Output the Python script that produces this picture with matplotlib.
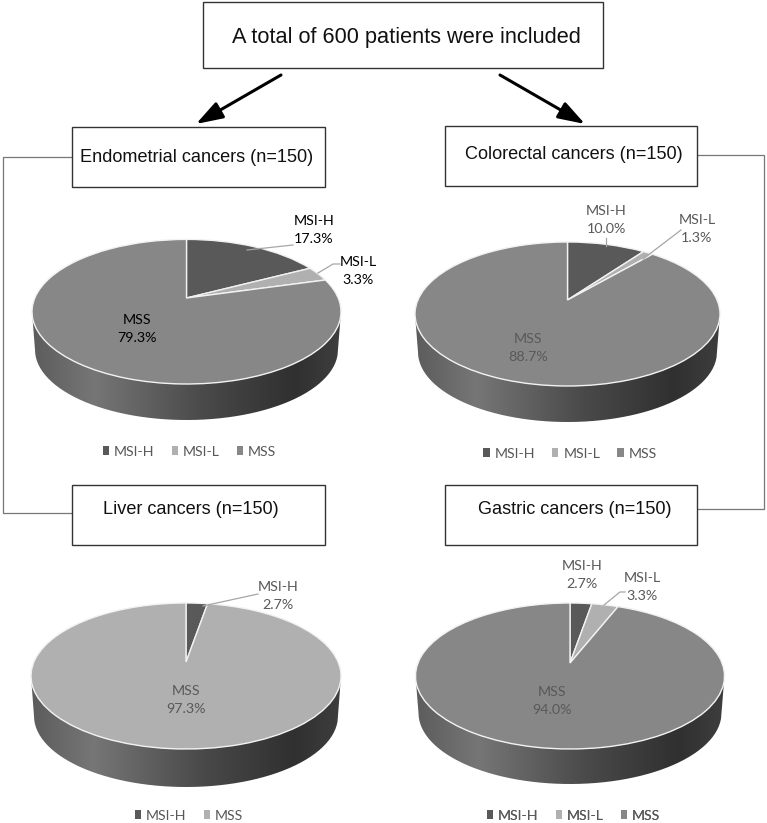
from matplotlib import pyplot as plt
from matplotlib.colors import LinearSegmentedColormap
from matplotlib.patches import Patch, PathPatch, Rectangle
from matplotlib.path import Path
from matplotlib.transforms import Affine2D, Transform
import numpy as np

plt.rcParams['font.family'] = ['Lato', 'DejaVu Sans']

DARK = '#595959'
LIGHT = '#b0b0b0'
MID = '#878787'

# values per pie, in percent
endometrial_labels = ['MSI-H', 'MSI-L', 'MSS']
endometrial_values = [17.3, 3.3, 79.3]
colorectal_labels = ['MSI-H', 'MSI-L', 'MSS']
colorectal_values = [10.0, 1.3, 88.7]
liver_labels = ['MSI-H', 'MSS']
liver_values = [2.7, 97.3]
gastric_labels = ['MSI-H', 'MSI-L', 'MSS']
gastric_values = [2.7, 3.3, 94.0]

title_text = 'A total of 600 patients were included'
box_texts = ['Endometrial cancers (n=150)', 'Colorectal cancers (n=150)',
             'Liver cancers (n=150)', 'Gastric cancers (n=150)']


class Tilt(Transform):
    # keeps the unit circle on itself but moves the centre up, like the 3d view
    input_dims = 2
    output_dims = 2

    def __init__(self, a):
        super().__init__()
        self.a = a

    def transform_non_affine(self, values):
        x, y = values[:, 0], values[:, 1]
        d = 1 + self.a * y
        return np.column_stack([x * np.sqrt(1 - self.a ** 2) / d, (y + self.a) / d])


wall_cmap = LinearSegmentedColormap.from_list('wall', [
    (0.0, '#5c5c5c'), (0.2, '#767676'), (0.55, '#4a4a4a'), (0.85, '#303030'), (1.0, '#3e3e3e')])

fig = plt.figure(figsize=(7.67, 8.23), dpi=100)
ax = fig.add_axes([0, 0, 1, 1])


def draw_pie(values, colors, cx, cy, rx, ry, apex, bottom):
    # side wall first, gradient clipped to the visible front part
    t = np.linspace(np.pi, 2 * np.pi, 120)
    rx2, ry2 = rx - 3, ry - 2
    cy2 = bottom - ry2
    xs = np.r_[cx + rx * np.cos(t), (cx + rx2 * np.cos(t))[::-1]]
    ys = np.r_[cy - ry * np.sin(t), (cy2 - ry2 * np.sin(t))[::-1]]
    wall = PathPatch(Path(np.column_stack([xs, ys]), closed=False), fc='none', ec='none')
    ax.add_patch(wall)
    im = ax.imshow(np.linspace(0, 1, 256)[None, :], cmap=wall_cmap, vmin=0, vmax=1,
                   extent=[cx - rx, cx + rx, bottom + 1, cy - 1], aspect='auto', zorder=1)
    im.set_clip_path(wall)

    wedges, _ = ax.pie(values, colors=colors, startangle=90, counterclock=False, radius=1,
                       wedgeprops={'edgecolor': '#f2f2f2', 'linewidth': 1.0, 'zorder': 2})
    place = Tilt((cy - apex) / ry) + Affine2D().scale(rx, -ry).translate(cx, cy) + ax.transData
    for w in wedges:
        w.set_transform(place)


def label(x, y, txt, color=DARK):
    ax.text(x, y, txt, ha='center', va='center', fontsize=10.3, color=color,
            linespacing=1.6, zorder=5)


def leader(xs, ys):
    ax.plot(xs, ys, color='#a6a6a6', lw=0.9, zorder=4)


def legend(x, y, labels, colors):
    handles = [Patch(fc=c, ec='none', label=l) for c, l in zip(colors, labels)]
    leg = ax.legend(handles=handles, ncol=len(labels), loc='center', bbox_to_anchor=(x, y),
                    bbox_transform=ax.transData, frameon=False, fontsize=10.2,
                    handlelength=0.45, handleheight=0.6, handletextpad=0.35,
                    columnspacing=1.2, labelcolor=DARK, borderpad=0)
    ax.add_artist(leg)


draw_pie(endometrial_values, [DARK, LIGHT, MID], 186.5, 311.7, 154.5, 72.3, 298, 420)
draw_pie(colorectal_values, [DARK, LIGHT, MID], 567.5, 314, 152.5, 72, 300, 422)
draw_pie(liver_values, [DARK, LIGHT], 186, 676, 155, 73, 662, 787)
draw_pie(gastric_values, [DARK, LIGHT, MID], 570, 676, 154.5, 73, 663, 784)

# data labels
label(314, 230, f'MSI-H\n{endometrial_values[0]}%', 'black')
label(358, 271, f'MSI-L\n{endometrial_values[1]}%', 'black')
label(137, 329, f'MSS\n{endometrial_values[2]}%', 'black')
leader([247, 293], [250, 245])
leader([318, 333, 340], [273, 264, 264])

label(606, 220, f'MSI-H\n{colorectal_values[0]:.1f}%')
label(697, 229, f'MSI-L\n{colorectal_values[1]}%')
label(528, 348, f'MSS\n{colorectal_values[2]}%')
leader([606, 606], [238, 246])
leader([643, 681], [259, 230])

label(278, 596, f'MSI-H\n{liver_values[0]}%')
label(186, 700, f'MSS\n{liver_values[1]}%')
leader([203, 258], [606, 594])

label(582, 575, f'MSI-H\n{gastric_values[0]}%')
label(642, 587, f'MSI-L\n{gastric_values[1]}%')
label(552, 701, f'MSS\n{gastric_values[2]:.1f}%')
leader([604, 620, 625], [605, 592, 592])

legend(189.5, 451.5, endometrial_labels, [DARK, LIGHT, MID])
legend(570, 453.5, colorectal_labels, [DARK, LIGHT, MID])
legend(189, 815.5, liver_labels, [DARK, LIGHT])
legend(573.5, 815.5, gastric_labels, [DARK, LIGHT, MID])

# flow boxes
boxes = [(72, 127, 253, 60), (445, 126, 252, 60), (72, 485, 253, 60), (445, 485, 252, 60)]
centers = [(197, 157), (574, 154), (191, 510), (575, 510)]
for (x, y, w, h), (tx, ty), txt in zip(boxes, centers, box_texts):
    ax.add_patch(Rectangle((x, y), w, h, fc='white', ec='#333333', lw=1.0, zorder=6))
    ax.text(tx, ty, txt, ha='center', va='center', fontsize=13.1, family='Liberation Sans',
            color='#111111', zorder=7)

ax.add_patch(Rectangle((203, 2), 400, 66, fc='white', ec='#333333', lw=1.0, zorder=6))
ax.text(406, 37, title_text, ha='center', va='center', fontsize=15.7, family='Liberation Sans',
        color='#111111', zorder=7)

# connectors
ax.plot([72, 3, 3, 72], [157, 157, 513, 513], color='#777777', lw=0.9, zorder=3)
ax.plot([697, 764, 764, 697], [155, 155, 509, 509], color='#777777', lw=0.9, zorder=3)

# arrows
for start, end in [((281, 75), (196, 124)), ((500, 75), (585, 124))]:
    ax.annotate('', xy=end, xytext=start, zorder=7,
                arrowprops={'arrowstyle': '-|>,head_length=0.9,head_width=0.3', 'color': 'black',
                            'lw': 2.2, 'mutation_scale': 18, 'shrinkA': 0, 'shrinkB': 0})

ax.set_aspect('auto')
ax.set_xlim(0, 767)
ax.set_ylim(823, 0)
ax.axis('off')

plt.savefig('out.png', dpi=100)
